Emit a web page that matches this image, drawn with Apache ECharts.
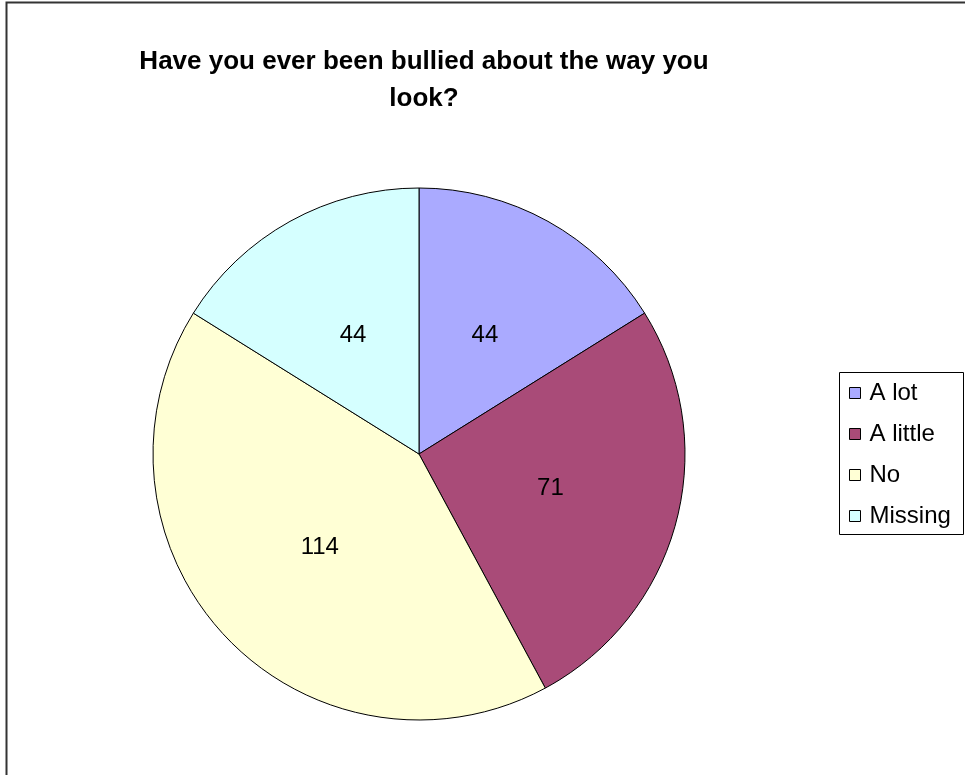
<!DOCTYPE html>
<html>
<head>
<meta charset="utf-8">
<script src="https://cdn.jsdelivr.net/npm/echarts@6/dist/echarts.min.js"></script>
<style>
html,body{margin:0;padding:0;background:#fff;}
#c{width:965px;height:775px;}
</style>
</head>
<body>
<div id="c"></div>
<script>
const categories = ['A lot', 'A little', 'No', 'Missing'];
const values = [44, 71, 114, 44];
const colors = ['#AAAAFF', '#A94B78', '#FFFFD5', '#D5FFFF'];
const titleText = 'Have you ever been bullied about the way you\nlook?';

const chart = echarts.init(document.getElementById('c'));
chart.setOption({
  animation: false,
  title: {
    text: titleText,
    left: 419,
    textAlign: 'center',
    top: 38,
    textStyle: {
      fontFamily: 'Liberation Sans',
      fontWeight: 'bold',
      fontSize: 26,
      lineHeight: 37,
      color: '#000'
    }
  },
  legend: {
    orient: 'vertical',
    left: 849,
    top: 381,
    padding: 0,
    itemGap: 17,
    itemWidth: 11,
    itemHeight: 11,
    icon: 'rect',
    itemStyle: { borderColor: '#000', borderWidth: 1 },
    textStyle: { fontFamily: 'Liberation Sans', fontSize: 24, lineHeight: 24, color: '#000', padding: [0, 0, 0, 4] },
    data: categories
  },
  graphic: [{
    type: 'rect',
    shape: { x: 6.5, y: 2.5, width: 1000, height: 1000 },
    style: { fill: 'none', stroke: '#333', lineWidth: 2 },
    silent: true
  }, {
    type: 'rect',
    shape: { x: 839.5, y: 372.5, width: 124, height: 162 },
    style: { fill: 'none', stroke: '#000', lineWidth: 1 },
    silent: true
  }],
  series: [{
    type: 'pie',
    center: [419, 454],
    radius: 266,
    startAngle: 90,
    clockwise: true,
    label: {
      position: 'inside',
      formatter: '{c}',
      fontFamily: 'Liberation Sans',
      fontSize: 24,
      color: '#000'
    },
    labelLine: { show: false },
    itemStyle: { borderColor: '#000', borderWidth: 1 },
    emphasis: { disabled: true },
    data: categories.map((n, i) => ({ name: n, value: values[i], itemStyle: { color: colors[i] } }))
  }]
});
</script>
</body>
</html>
